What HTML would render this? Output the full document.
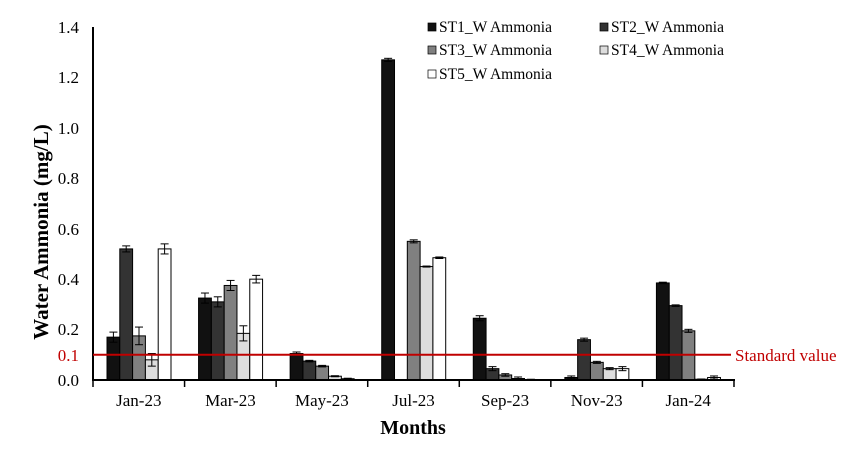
<!DOCTYPE html>
<html><head><meta charset="utf-8"><style>
html,body{margin:0;padding:0;background:#fff;}
svg{display:block;font-family:"Liberation Serif",serif;}
</style></head><body>
<svg id="c" width="865" height="454" viewBox="0 0 865 454" xmlns="http://www.w3.org/2000/svg">
<g font-size="17" fill="#000" text-anchor="end">
<text x="79" y="33">1.4</text>
<text x="79" y="83">1.2</text>
<text x="79" y="134">1.0</text>
<text x="79" y="184">0.8</text>
<text x="79" y="235">0.6</text>
<text x="79" y="285">0.4</text>
<text x="79" y="335">0.2</text>
<text x="79" y="361" fill="#c00000">0.1</text>
<text x="79" y="386">0.0</text>
</g>
<text transform="translate(48,232) rotate(-90)" text-anchor="middle" font-size="21" font-weight="bold">Water Ammonia (mg/L)</text>
<text x="413" y="434" text-anchor="middle" font-size="20" font-weight="bold">Months</text>
<g font-size="17" text-anchor="middle">
<text x="138.8" y="406">Jan-23</text>
<text x="230.4" y="406">Mar-23</text>
<text x="321.9" y="406">May-23</text>
<text x="413.5" y="406">Jul-23</text>
<text x="505.1" y="406">Sep-23</text>
<text x="596.7" y="406">Nov-23</text>
<text x="688.2" y="406">Jan-24</text>
</g>
<g id="bars"></g>
<line x1="93" y1="27" x2="93" y2="381" stroke="#000" stroke-width="2"/>
<line x1="92" y1="380" x2="735" y2="380" stroke="#000" stroke-width="2"/>
<g stroke="#000" stroke-width="1.5" id="ticks"></g>
<line x1="93" y1="354.8" x2="731" y2="354.8" stroke="#c00000" stroke-width="2"/>
<text x="735" y="361" font-size="17" fill="#c00000">Standard value</text>
<g font-size="15.5">
<rect x="428" y="23" width="8" height="8" fill="#111" stroke="#000" stroke-width="0.7"/><text x="439" y="32">ST1_W Ammonia</text>
<rect x="600" y="23" width="8" height="8" fill="#333" stroke="#000" stroke-width="0.7"/><text x="611" y="32">ST2_W Ammonia</text>
<rect x="428" y="46" width="8" height="8" fill="#808080" stroke="#000" stroke-width="0.7"/><text x="439" y="55">ST3_W Ammonia</text>
<rect x="600" y="46" width="8" height="8" fill="#ddd" stroke="#000" stroke-width="0.7"/><text x="611" y="55">ST4_W Ammonia</text>
<rect x="428" y="70" width="8" height="8" fill="#fff" stroke="#000" stroke-width="0.7"/><text x="439" y="79">ST5_W Ammonia</text>
</g>
</svg>
<script>
(function(){
var ns="http://www.w3.org/2000/svg";
var cols=["#111","#333","#808080","#ddd","#fff"];
var v=[[0.17,0.52,0.175,0.08,0.52],[0.325,0.31,0.375,0.185,0.40],[0.105,0.075,0.055,0.015,0.005],[1.27,0,0.55,0.45,0.485],[0.245,0.045,0.02,0.006,0.002],[0.01,0.16,0.07,0.045,0.045],[0.385,0.295,0.195,0.003,0.01]];
var e=[[0.02,0.012,0.035,0.025,0.02],[0.02,0.02,0.02,0.03,0.015],[0.006,0.003,0.003,0.002,0.002],[0.006,0,0.006,0.002,0.003],[0.01,0.008,0.005,0.006,0.001],[0.006,0.006,0.004,0.004,0.008],[0.003,0.003,0.006,0.001,0.006]];
var g=document.getElementById("bars"),t=document.getElementById("ticks");
function el(n,a,p){var x=document.createElementNS(ns,n);for(var k in a)x.setAttribute(k,a[k]);p.appendChild(x);}
var S=252.1,W=12.8,GW=91.57;
for(var i=0;i<=7;i++){var tx=93+i*GW;el("line",{x1:tx,y1:380,x2:tx,y2:387},t);}
for(var m=0;m<7;m++)for(var s=0;s<5;s++){
 var val=v[m][s];if(val<=0)continue;
 var x=93+m*GW+14+s*W,h=val*S;
 el("rect",{x:x,y:380-h,width:W,height:h,fill:cols[s],stroke:"#000","stroke-width":1},g);
 var er=e[m][s]*S,cx=x+W/2,y=380-h;
 el("line",{x1:cx,y1:y-er,x2:cx,y2:Math.min(380,y+er),stroke:"#000","stroke-width":1},g);
 el("line",{x1:cx-4,y1:y-er,x2:cx+4,y2:y-er,stroke:"#000","stroke-width":1},g);
 if(y+er<380)el("line",{x1:cx-4,y1:y+er,x2:cx+4,y2:y+er,stroke:"#000","stroke-width":1},g);
}
})();
</script>
</body></html>
